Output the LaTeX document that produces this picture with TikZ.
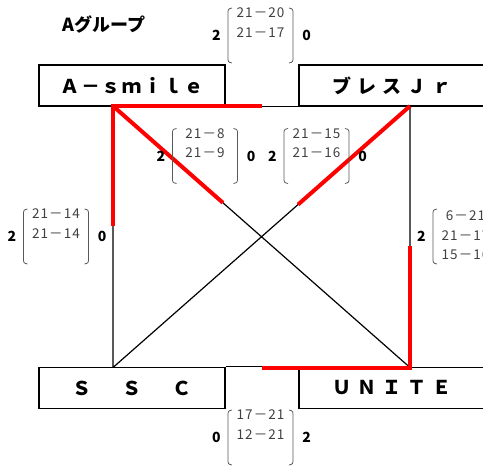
\documentclass[tikz,border=0pt]{standalone}
\usepackage{fontspec}
\setmainfont{Noto Sans CJK JP}
\usetikzlibrary{positioning, calc}

\begin{document}
\begin{tikzpicture}[x=1pt, y=-1pt,
    team/.style={draw, line width=1.4pt, minimum width=186pt, minimum height=41pt, inner sep=0pt,
      font=\fontsize{19}{19}\selectfont\bfseries\addfontfeature{LetterSpace=32}},
    score/.style={minimum width=65pt, inner sep=0pt, text=black!75,
      font=\fontsize{13.5}{19.5}\selectfont\addfontfeature{LetterSpace=8}},
    pts/.style={inner sep=0pt, font=\fontsize{14}{14}\selectfont\bfseries},
    paren/.style={black!65, line width=0.8pt},
    link/.style={line width=1.2pt},
    win/.style={red, line width=4pt}
  ]
  \useasboundingbox (0,0) rectangle (483,466);

  \node[font=\fontsize{18}{18}\selectfont\bfseries] (title) at (104,24) {Aグループ};

  % teams
  \node[team, font=\fontsize{19}{19}\selectfont\bfseries\addfontfeature{LetterSpace=8}] (asmile) at (132,85.5) {Ａ－ｓｍｉｌｅ};
  \node[team] (bless) at (392,85.5) {ブレスＪｒ};
  \node[team] (ssc) at (132,388) {Ｓ　Ｓ　Ｃ};
  \node[team] (unite) at (392,388) {ＵＮＩＴＥ};

  \coordinate (tl) at (113,106);
  \coordinate (tr) at (410,106);
  \coordinate (bl) at (113,367.5);
  \coordinate (br) at (410,367.5);

  \draw[link] (asmile.south east) -- (bless.south west);
  \draw[link] (ssc.north east) -- (unite.north west);
  \draw[link] (tl) -- (bl) (tr) -- (br) (tl) -- (br) (tr) -- (bl);

  % won legs
  \draw[win] ($(tl)!0.5!(tr)$) -- (tl) -- ($(tl)!0.46!(bl)$);
  \draw[win] (tl) -- ($(tl)!0.37!(br)$);
  \draw[win] (tr) -- ($(tr)!0.377!(bl)$);
  \draw[win] ($(br)!0.466!(tr)$) -- (br) -- ($(br)!0.5!(bl)$);

  % results
  \node[score] (ab) at (260.5,35.5) {\begin{tabular}{@{}c@{}}21－20\\21－17\\[4pt] \mbox{}\end{tabular}};
  \node[score] (au) at (205,156) {\begin{tabular}{@{}c@{}}21－8\\21－9\\[4pt] \mbox{}\end{tabular}};
  \node[score] (bs) at (316.5,156) {\begin{tabular}{@{}c@{}}21－15\\21－16\\[4pt] \mbox{}\end{tabular}};
  \node[score] (as) at (56,236.5) {\begin{tabular}{@{}c@{}}21－14\\21－14\\[4pt] \mbox{}\end{tabular}};
  \node[score] (bu) at (465.5,236.5) {\begin{tabular}{@{}c@{}}6－21\\21－17\\15－16\end{tabular}};
  \node[score] (su) at (260.5,437.5) {\begin{tabular}{@{}c@{}}17－21\\12－21\\[4pt] \mbox{}\end{tabular}};

  \foreach \m in {ab,au,bs,as,bu,su}{
    \draw[paren] ([xshift=-28.5pt,yshift=27.5pt]\m.center) .. controls ([xshift=-32.5pt,yshift=26.5pt]\m.center) .. ([xshift=-32.5pt,yshift=21pt]\m.center)
      -- ([xshift=-32.5pt,yshift=-21pt]\m.center) .. controls ([xshift=-32.5pt,yshift=-26.5pt]\m.center) .. ([xshift=-28.5pt,yshift=-27.5pt]\m.center);
    \draw[paren] ([xshift=28.5pt,yshift=27.5pt]\m.center) .. controls ([xshift=32.5pt,yshift=26.5pt]\m.center) .. ([xshift=32.5pt,yshift=21pt]\m.center)
      -- ([xshift=32.5pt,yshift=-21pt]\m.center) .. controls ([xshift=32.5pt,yshift=-26.5pt]\m.center) .. ([xshift=28.5pt,yshift=-27.5pt]\m.center);
  }

  \node[pts, left=7pt of ab] (abl) {2};
  \node[pts, right=9pt of ab] (abr) {0};
  \node[pts, left=7pt of au] (aul) {2};
  \node[pts, right=9pt of au] (aur) {0};
  \node[pts, left=7pt of bs] (bsl) {2};
  \node[pts, right=9pt of bs] (bsr) {0};
  \node[pts, left=7pt of as] (asl) {2};
  \node[pts, right=9pt of as] (asr) {0};
  \node[pts, left=7pt of bu] (bul) {2};
  \node[pts, left=7pt of su] (sul) {0};
  \node[pts, right=9pt of su] (sur) {2};
\end{tikzpicture}
\end{document}
